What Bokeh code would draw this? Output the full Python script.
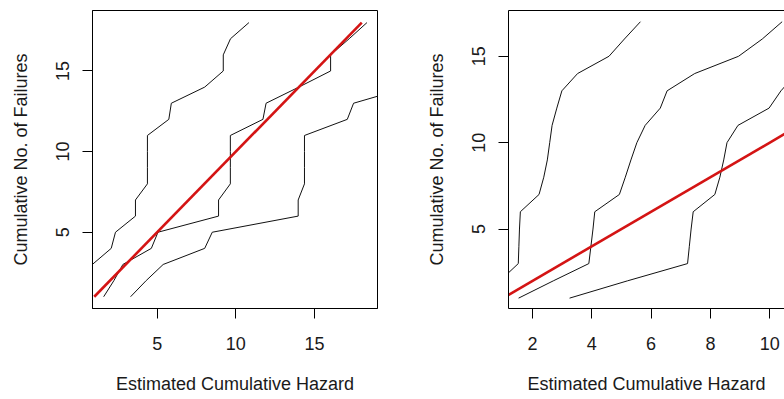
from bokeh.plotting import figure
from bokeh.layouts import row
from bokeh.models import Range1d, FixedTicker, LinearAxis
from bokeh.embed import file_html
from bokeh.resources import INLINE

# ---------------- data ----------------
# Left panel: cumulative no. of failures vs estimated cumulative hazard
left_a_y = list(range(3, 19))
left_a_x = [0.88, 2.08, 2.35, 3.62, 3.62, 4.38, 4.38, 4.38, 4.38, 5.74, 5.90, 8.02, 9.20, 9.20, 9.66, 10.83]
left_b_y = list(range(1, 19))
left_b_x = [1.60, 2.25, 2.82, 4.63, 5.05, 8.90, 8.90, 9.65, 9.65, 9.65, 9.65, 11.72, 11.92, 14.00, 16.02, 16.02, 17.20, 18.33]
left_c_y = list(range(1, 15))
left_c_x = [3.31, 4.30, 5.38, 8.02, 8.50, 13.96, 13.96, 14.36, 14.36, 14.36, 14.36, 17.08, 17.48, 21.00]
left_ref = [1, 18]

# Right panel
right_a_y = list(range(1, 18))
right_a_x = [0.50, 0.90, 1.52, 1.54, 1.56, 1.59, 2.22, 2.38, 2.50, 2.58, 2.66, 2.82, 2.99, 3.52, 4.58, 5.10, 5.64]
right_b_y = list(range(1, 18))
right_b_x = [1.53, 2.70, 3.90, 3.97, 4.04, 4.10, 4.93, 5.13, 5.32, 5.52, 5.80, 6.31, 6.54, 7.47, 8.95, 9.75, 10.42]
right_c_y = list(range(1, 15))
right_c_x = [3.25, 5.20, 7.23, 7.29, 7.35, 7.42, 8.15, 8.32, 8.45, 8.56, 8.93, 9.98, 10.38, 10.90]
right_ref = [1, 17]

left_xticks = [5, 10, 15]
left_yticks = [5, 10, 15]
right_xticks = [2, 4, 6, 8, 10]
right_yticks = [5, 10, 15]

x_title = "Estimated Cumulative Hazard"
y_title = "Cumulative No. of Failures"

FONT = "Liberation Sans"
RED = "#d41414"


def style_axis(ax, ticks, vertical):
    ax.ticker = FixedTicker(ticks=ticks)
    ax.major_label_text_font = FONT
    ax.major_label_text_font_size = "18px"
    ax.major_label_text_color = "#1a1a1a"
    ax.axis_label_text_font = FONT
    ax.axis_label_text_font_size = "18px"
    ax.axis_label_text_font_style = "normal"
    ax.axis_label_text_color = "#1a1a1a"
    ax.axis_line_color = "black"
    ax.major_tick_line_color = "black"
    ax.major_tick_out = 10
    ax.major_tick_in = 0
    ax.minor_tick_out = 0
    ax.minor_tick_in = 0
    if vertical:
        ax.major_label_orientation = "vertical"
        ax.major_label_standoff = 13
        ax.axis_label_standoff = 23
    else:
        ax.major_label_standoff = 18
        ax.axis_label_standoff = 21


def make_fig(frame_w, xr, yr, xticks, yticks, b_left, b_right, four_sides):
    p = figure(frame_width=frame_w, frame_height=298, output_backend="svg", toolbar_location=None,
               x_range=Range1d(*xr), y_range=Range1d(*yr),
               min_border_left=b_left, min_border_right=b_right,
               min_border_top=10, min_border_bottom=89)
    p.xgrid.visible = False
    p.ygrid.visible = False
    p.background_fill_color = "white"
    p.border_fill_color = "white"
    p.xaxis.axis_label = x_title
    p.yaxis.axis_label = y_title
    style_axis(p.xaxis[0], xticks, False)
    style_axis(p.yaxis[0], yticks, True)
    if four_sides:
        p.outline_line_color = "black"
        p.outline_line_width = 1
        p.outline_line_alpha = 1
    else:
        p.outline_line_color = None
        top = LinearAxis(ticker=FixedTicker(ticks=[]))
        top.major_label_text_font_size = "0px"
        top.major_tick_out = 0
        top.major_tick_in = 0
        top.minor_tick_out = 0
        top.minor_tick_in = 0
        top.major_label_standoff = 0
        top.axis_line_color = "black"
        p.add_layout(top, "above")
    return p


p1 = make_fig(285, (0.89, 19.0), (0.27, 18.75), left_xticks, left_yticks, 92, 23, True)
for xs, ys in [(left_a_x, left_a_y), (left_b_x, left_b_y), (left_c_x, left_c_y)]:
    p1.line(xs, ys, line_color="#111111", line_width=1)
p1.line(left_ref, left_ref, line_color=RED, line_width=2.6)

p2 = make_fig(276, (1.19, 10.5), (0.4, 17.65), right_xticks, right_yticks, 108, 0, False)
for xs, ys in [(right_a_x, right_a_y), (right_b_x, right_b_y), (right_c_x, right_c_y)]:
    p2.line(xs, ys, line_color="#111111", line_width=1)
p2.line(right_ref, right_ref, line_color=RED, line_width=2.6)

layout = row(p1, p2)
open("out.html", "w").write(file_html(layout, INLINE))
